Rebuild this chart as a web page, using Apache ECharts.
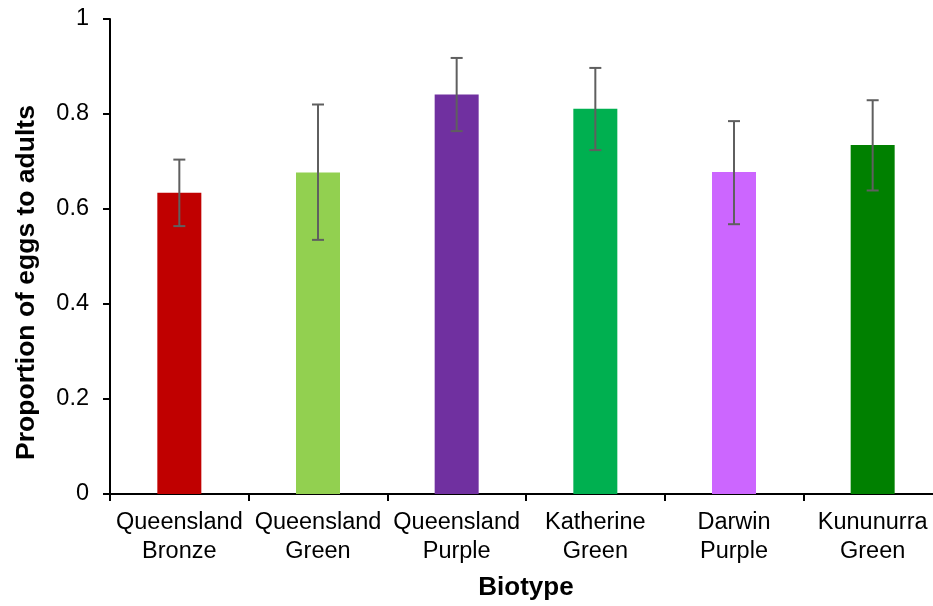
<!DOCTYPE html>
<html>
<head>
<meta charset="utf-8">
<script src="https://cdn.jsdelivr.net/npm/echarts@6/dist/echarts.min.js"></script>
<style>
html,body{margin:0;padding:0;background:#fff;overflow:hidden;width:933px;height:606px;}
#chart{width:942px;height:606px;}
</style>
</head>
<body>
<div id="chart"></div>
<script>
var categories = ['Queensland\nBronze', 'Queensland\nGreen', 'Queensland\nPurple', 'Katherine\nGreen', 'Darwin\nPurple', 'Kununurra\nGreen'];
var means = [0.634, 0.677, 0.841, 0.811, 0.678, 0.735];
var errLower = [0.564, 0.535, 0.764, 0.724, 0.568, 0.639];
var errUpper = [0.704, 0.820, 0.918, 0.897, 0.785, 0.829];
var barColors = ['#C00000', '#92D050', '#7030A0', '#00B050', '#CC66FF', '#008000'];
var yTicks = [0, 0.2, 0.4, 0.6, 0.8, 1];

var font = '"Liberation Sans", Arial, sans-serif';
var chart = echarts.init(document.getElementById('chart'));

var errData = categories.map(function (c, i) { return [i, errLower[i], errUpper[i]]; });

chart.setOption({
  animation: false,
  backgroundColor: '#fff',
  grid: { left: 110, right: 0, top: 19, bottom: 112, containLabel: false },
  xAxis: {
    type: 'category',
    data: categories,
    name: 'Biotype',
    nameLocation: 'middle',
    nameGap: 81,
    nameTextStyle: { fontFamily: font, fontSize: 26, fontWeight: 'bold', color: '#000' },
    axisLine: { lineStyle: { color: '#000', width: 2 } },
    axisTick: { show: true, length: 7, lineStyle: { color: '#000', width: 2 }, alignWithLabel: false },
    axisLabel: { fontFamily: font, fontSize: 23.5, color: '#000', margin: 14, lineHeight: 29, interval: 0 },
    splitLine: { show: false }
  },
  yAxis: {
    type: 'value',
    min: yTicks[0],
    max: yTicks[yTicks.length - 1],
    interval: 0.2,
    name: 'Proportion of eggs to adults',
    nameLocation: 'middle',
    nameGap: 70,
    nameTextStyle: { fontFamily: font, fontSize: 26.5, fontWeight: 'bold', color: '#000', padding: [0, 52, 0, 0] },
    axisLine: { show: true, lineStyle: { color: '#000', width: 2 } },
    axisTick: { show: true, length: 7, lineStyle: { color: '#000', width: 2 } },
    axisLabel: { fontFamily: font, fontSize: 23.5, color: '#000', margin: 21 },
    splitLine: { show: false }
  },
  series: [
    {
      type: 'bar',
      barWidth: 44,
      data: means.map(function (v, i) { return { value: v, itemStyle: { color: barColors[i] } }; }),
      z: 2
    },
    {
      type: 'custom',
      z: 5,
      data: errData,
      encode: { x: 0, y: [1, 2] },
      renderItem: function (params, api) {
        var x = api.value(0);
        var lo = api.coord([x, api.value(1)]);
        var hi = api.coord([x, api.value(2)]);
        var hw = 6;
        var style = { stroke: '#5f5f5f', lineWidth: 2, fill: null };
        return {
          type: 'group',
          children: [
            { type: 'line', shape: { x1: lo[0], y1: lo[1], x2: hi[0], y2: hi[1] }, style: style },
            { type: 'line', shape: { x1: lo[0] - hw, y1: lo[1], x2: lo[0] + hw, y2: lo[1] }, style: style },
            { type: 'line', shape: { x1: hi[0] - hw, y1: hi[1], x2: hi[0] + hw, y2: hi[1] }, style: style }
          ]
        };
      }
    }
  ]
});
</script>
</body>
</html>
